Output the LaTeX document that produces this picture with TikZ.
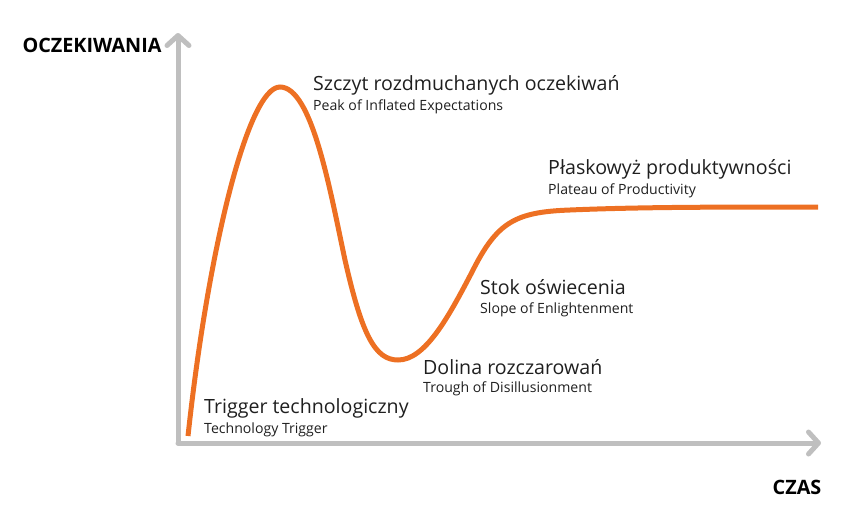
\documentclass[tikz,border=0pt]{standalone}
\usepackage{fontspec}
\setmainfont{Open Sans}
\usetikzlibrary{arrows.meta}
\definecolor{axisgray}{RGB}{191,191,191}
\definecolor{hypeorange}{RGB}{237,112,35}
\tikzset{
  axisline/.style={draw=axisgray, line width=5pt, line cap=round, line join=round,
    -{Straight Barb[length=10pt, width=22pt, line width=5pt, round]}},
  curve/.style={draw=hypeorange, line width=5pt},
  mainlbl/.style={anchor=base west, inner sep=0pt, font=\fontsize{19.6}{22}\selectfont, text=black!88},
  sublbl/.style={anchor=base west, inner sep=0pt, font=\fontsize{14.1}{16}\selectfont, text=black!88},
  axislbl/.style={inner sep=0pt, font=\bfseries\fontsize{19.8}{22}\selectfont},
}
\begin{document}
\begin{tikzpicture}[x=1pt, y=-1pt]
\useasboundingbox (0,0) rectangle (865,515);
% axes
\coordinate (O) at (178,443);
\coordinate (ytip) at (178,33);
\coordinate (xtip) at (821,443);
\draw[axisline] (O) -- (ytip);
\draw[axisline] (O) -- (xtip);
\node[axislbl] (ylab) at (92,45) {OCZEKIWANIA};
\node[axislbl] (xlab) at (797,487) {CZAS};
% curve
\coordinate (start) at (188,436);
\coordinate (peak) at (280,87);
\coordinate (fall) at (345,260);
\coordinate (trough) at (398,360);
\coordinate (rise) at (472,272);
\coordinate (knee) at (570,210);
\coordinate (end) at (818,207);
\draw[curve] (start) .. controls (208,250) and (248,87) .. (peak)
  .. controls (312,87) and (330,190) .. (fall)
  .. controls (362,335) and (375,360) .. (trough)
  .. controls (425,360) and (448,318) .. (rise)
  .. controls (497,222) and (515,212) .. (knee)
  .. controls (640,207) and (720,207) .. (end);
% labels
\node[mainlbl] (l1a) at (313,90) {Szczyt rozdmuchanych oczekiwań};
\node[sublbl]  (l1b) at (313,110) {Peak of Inflated Expectations};
\node[mainlbl] (l2a) at (548,174.5) {Płaskowyż produktywności};
\node[sublbl]  (l2b) at (548,194.5) {Plateau of Productivity};
\node[mainlbl] (l3a) at (480,294) {Stok oświecenia};
\node[sublbl]  (l3b) at (480,313) {Slope of Enlightenment};
\node[mainlbl] (l4a) at (423,374.5) {Dolina rozczarowań};
\node[sublbl]  (l4b) at (423,392) {Trough of Disillusionment};
\node[mainlbl] (l5a) at (204,413.5) {Trigger technologiczny};
\node[sublbl]  (l5b) at (204,433) {Technology Trigger};
\end{tikzpicture}
\end{document}
